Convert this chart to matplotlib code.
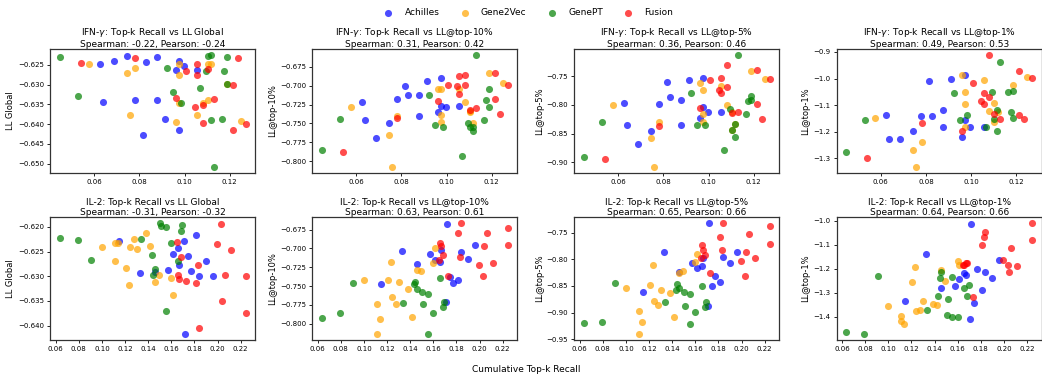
import matplotlib
matplotlib.use("Agg")
import matplotlib.pyplot as plt
from matplotlib.ticker import MultipleLocator

models = ["Achilles", "Gene2Vec", "GenePT", "Fusion"]
colors = ["blue", "orange", "green", "red"]

# ---------------- IFN-gamma: cumulative top-k recall (x) ----------------
ifn_x_achilles = [0.0624, 0.0637, 0.0685, 0.0744, 0.0779, 0.0816, 0.0828, 0.0876, 0.0876, 0.0912, 0.0960, 0.0974, 0.0974, 0.0997, 0.1056]
ifn_x_gene2vec = [0.0575, 0.0744, 0.0756, 0.0781, 0.0960, 0.0974, 0.0974, 0.0975, 0.1056, 0.1081, 0.1103, 0.1104, 0.1118, 0.1188, 0.1250]
ifn_x_genept = [0.0446, 0.0528, 0.0924, 0.0949, 0.0984, 0.1068, 0.1093, 0.1104, 0.1116, 0.1116, 0.1130, 0.1165, 0.1176, 0.1188, 0.1188]
ifn_x_fusion = [0.0540, 0.0781, 0.0960, 0.1007, 0.1044, 0.1056, 0.1056, 0.1081, 0.1081, 0.1103, 0.1129, 0.1213, 0.1213, 0.1237, 0.1272]

# IFN-gamma: LL Global
ifn_global_achilles = [-0.6247, -0.6345, -0.6241, -0.6228, -0.6338, -0.6427, -0.6242, -0.6231, -0.6338, -0.6387, -0.6262, -0.6241, -0.6416, -0.6253, -0.6262]
ifn_global_gene2vec = [-0.6247, -0.6272, -0.6376, -0.6258, -0.6396, -0.6247, -0.6277, -0.6347, -0.6377, -0.6346, -0.6247, -0.6338, -0.6249, -0.6299, -0.6392]
ifn_global_genept = [-0.6231, -0.6330, -0.6259, -0.6318, -0.6346, -0.6309, -0.6265, -0.6228, -0.6225, -0.6391, -0.6509, -0.6386, -0.6267, -0.6230, -0.6299]
ifn_global_fusion = [-0.6246, -0.6232, -0.6334, -0.6266, -0.6357, -0.6249, -0.6276, -0.6353, -0.6398, -0.6260, -0.6337, -0.6302, -0.6416, -0.6234, -0.6401]

# IFN-gamma: LL@top-10%
ifn_top10_achilles = [-0.7214, -0.7455, -0.7692, -0.7500, -0.7179, -0.7000, -0.7129, -0.7129, -0.7406, -0.6933, -0.7344, -0.6902, -0.7268, -0.7286, -0.7263]
ifn_top10_gene2vec = [-0.7277, -0.7660, -0.8080, -0.7400, -0.7049, -0.7045, -0.7384, -0.7478, -0.7045, -0.7214, -0.7330, -0.7348, -0.7500, -0.6830, -0.6969]
ifn_top10_genept = [-0.7857, -0.7446, -0.7129, -0.7522, -0.7549, -0.7933, -0.7500, -0.7545, -0.7550, -0.7605, -0.6590, -0.7455, -0.7188, -0.7045, -0.7277]
ifn_top10_fusion = [-0.7880, -0.7433, -0.7205, -0.6991, -0.7000, -0.6875, -0.7107, -0.6853, -0.6987, -0.7326, -0.7290, -0.6826, -0.7170, -0.7379, -0.6991]

# IFN-gamma: LL@top-5%
ifn_top5_achilles = [-0.7965, -0.8359, -0.8676, -0.8453, -0.7988, -0.7594, -0.7865, -0.7912, -0.8347, -0.7559, -0.8229, -0.7524, -0.8029, -0.8129, -0.8118]
ifn_top5_gene2vec = [-0.8006, -0.8571, -0.9088, -0.8300, -0.7618, -0.7735, -0.8159, -0.8300, -0.7665, -0.8006, -0.8118, -0.8435, -0.8335, -0.7412, -0.7547]
ifn_top5_genept = [-0.8912, -0.8300, -0.7788, -0.8347, -0.8347, -0.8794, -0.8076, -0.8430, -0.8335, -0.8559, -0.7124, -0.8159, -0.7924, -0.7841, -0.7912]
ifn_top5_fusion = [-0.8947, -0.8365, -0.8047, -0.7559, -0.7735, -0.7529, -0.7794, -0.7306, -0.7688, -0.8147, -0.8129, -0.7394, -0.7982, -0.8253, -0.7541]

# IFN-gamma: LL@top-1%
ifn_top1_achilles = [-1.138, -1.229, -1.227, -1.198, -1.141, -1.010, -1.141, -1.118, -1.184, -1.000, -1.219, -0.987, -1.156, -1.183, -1.183]
ifn_top1_gene2vec = [-1.150, -1.270, -1.333, -1.238, -0.985, -1.051, -1.097, -1.181, -1.006, -1.123, -1.093, -1.162, -1.125, -1.025, -0.995]
ifn_top1_genept = [-1.276, -1.156, -1.053, -1.154, -1.137, -1.183, -1.051, -1.151, -1.118, -1.199, -0.938, -1.051, -1.126, -1.046, -1.147]
ifn_top1_fusion = [-1.297, -1.169, -1.197, -1.016, -1.085, -1.055, -1.096, -0.911, -1.068, -1.132, -1.152, -0.971, -1.138, -1.152, -0.996]

# ---------------- IL-2: cumulative top-k recall (x) ----------------
il2_x_achilles = [0.1145, 0.1325, 0.1455, 0.1575, 0.1612, 0.1658, 0.1669, 0.1707, 0.1718, 0.1744, 0.1767, 0.1813, 0.1839, 0.1899, 0.1959]
il2_x_gene2vec = [0.1001, 0.1110, 0.1110, 0.1136, 0.1205, 0.1231, 0.1242, 0.1277, 0.1300, 0.1383, 0.1420, 0.1455, 0.1492, 0.1600, 0.1612]
il2_x_genept = [0.0634, 0.0789, 0.0907, 0.1337, 0.1432, 0.1443, 0.1455, 0.1506, 0.1515, 0.1552, 0.1552, 0.1600, 0.1658, 0.1684, 0.1695]
il2_x_fusion = [0.1647, 0.1658, 0.1669, 0.1684, 0.1730, 0.1813, 0.1827, 0.1839, 0.1994, 0.2031, 0.2042, 0.2065, 0.2114, 0.2246, 0.2246]

# IL-2: LL Global
il2_global_achilles = [-0.6228, -0.6294, -0.6291, -0.6288, -0.6255, -0.6242, -0.6277, -0.6229, -0.6418, -0.6260, -0.6289, -0.6216, -0.6300, -0.6270, -0.6299]
il2_global_gene2vec = [-0.6240, -0.6232, -0.6270, -0.6233, -0.6283, -0.6318, -0.6240, -0.6224, -0.6245, -0.6212, -0.6239, -0.6311, -0.6297, -0.6304, -0.6338]
il2_global_genept = [-0.6222, -0.6227, -0.6267, -0.6224, -0.6257, -0.6298, -0.6286, -0.6192, -0.6199, -0.6201, -0.6370, -0.6233, -0.6270, -0.6209, -0.6197]
il2_global_fusion = [-0.6231, -0.6298, -0.6306, -0.6262, -0.6309, -0.6314, -0.6277, -0.6405, -0.6235, -0.6195, -0.6351, -0.6297, -0.6246, -0.6300, -0.6375]

# IL-2: LL@top-10%
il2_top10_achilles = [-0.7477, -0.7038, -0.7202, -0.7078, -0.7158, -0.7180, -0.7025, -0.7707, -0.6675, -0.7379, -0.7459, -0.7419, -0.7047, -0.7140, -0.6954]
il2_top10_gene2vec = [-0.7415, -0.7743, -0.8142, -0.7942, -0.7415, -0.7184, -0.7641, -0.7738, -0.7450, -0.7539, -0.7912, -0.7291, -0.7304, -0.7193, -0.6989]
il2_top10_genept = [-0.7920, -0.7854, -0.7464, -0.7730, -0.7468, -0.7441, -0.7539, -0.7579, -0.7738, -0.7606, -0.8133, -0.7854, -0.7393, -0.7783, -0.7707]
il2_top10_fusion = [-0.7158, -0.6923, -0.6963, -0.7087, -0.7362, -0.6794, -0.7118, -0.6661, -0.7215, -0.7362, -0.6963, -0.6799, -0.7189, -0.6723, -0.6950]

# IL-2: LL@top-5%
il2_top5_achilles = [-0.8609, -0.7868, -0.8235, -0.8079, -0.8167, -0.8117, -0.7967, -0.8877, -0.7319, -0.8497, -0.8310, -0.8416, -0.7955, -0.8073, -0.7868]
il2_top5_gene2vec = [-0.8534, -0.8977, -0.9406, -0.9182, -0.8472, -0.8098, -0.8790, -0.8852, -0.8578, -0.8640, -0.9076, -0.8248, -0.8216, -0.8048, -0.7899]
il2_top5_genept = [-0.9195, -0.9182, -0.8447, -0.8802, -0.8584, -0.8466, -0.8534, -0.8603, -0.8883, -0.8653, -0.9219, -0.8995, -0.8497, -0.8896, -0.8796]
il2_top5_fusion = [-0.7980, -0.7737, -0.7824, -0.7911, -0.8260, -0.7587, -0.7824, -0.7319, -0.8030, -0.8304, -0.7855, -0.7525, -0.7967, -0.7375, -0.7712]

# IL-2: LL@top-1%
il2_top1_achilles = [-1.336, -1.140, -1.279, -1.271, -1.243, -1.218, -1.226, -1.410, -1.011, -1.343, -1.201, -1.289, -1.212, -1.240, -1.164]
il2_top1_gene2vec = [-1.354, -1.396, -1.417, -1.432, -1.253, -1.194, -1.376, -1.371, -1.335, -1.346, -1.353, -1.204, -1.251, -1.168, -1.186]
il2_top1_genept = [-1.465, -1.474, -1.228, -1.371, -1.315, -1.238, -1.215, -1.394, -1.326, -1.233, -1.401, -1.401, -1.282, -1.314, -1.267]
il2_top1_fusion = [-1.186, -1.182, -1.175, -1.174, -1.317, -1.100, -1.069, -1.047, -1.165, -1.183, -1.214, -1.112, -1.189, -1.008, -1.081]

# Panel texts
ifn_titles = ["IFN-$\\gamma$: Top-k Recall vs LL Global\nSpearman: -0.22, Pearson: -0.24",
              "IFN-$\\gamma$: Top-k Recall vs LL@top-10%\nSpearman: 0.31, Pearson: 0.42",
              "IFN-$\\gamma$: Top-k Recall vs LL@top-5%\nSpearman: 0.36, Pearson: 0.46",
              "IFN-$\\gamma$: Top-k Recall vs LL@top-1%\nSpearman: 0.49, Pearson: 0.53"]
il2_titles = ["IL-2: Top-k Recall vs LL Global\nSpearman: -0.31, Pearson: -0.32",
              "IL-2: Top-k Recall vs LL@top-10%\nSpearman: 0.63, Pearson: 0.61",
              "IL-2: Top-k Recall vs LL@top-5%\nSpearman: 0.65, Pearson: 0.66",
              "IL-2: Top-k Recall vs LL@top-1%\nSpearman: 0.64, Pearson: 0.66"]
ylabels = ["LL Global", "LL@top-10%", "LL@top-5%", "LL@top-1%"]
xlabel = "Cumulative Top-k Recall"

ifn_x = [ifn_x_achilles, ifn_x_gene2vec, ifn_x_genept, ifn_x_fusion]
il2_x = [il2_x_achilles, il2_x_gene2vec, il2_x_genept, il2_x_fusion]
ifn_y = [
    [ifn_global_achilles, ifn_global_gene2vec, ifn_global_genept, ifn_global_fusion],
    [ifn_top10_achilles, ifn_top10_gene2vec, ifn_top10_genept, ifn_top10_fusion],
    [ifn_top5_achilles, ifn_top5_gene2vec, ifn_top5_genept, ifn_top5_fusion],
    [ifn_top1_achilles, ifn_top1_gene2vec, ifn_top1_genept, ifn_top1_fusion],
]
il2_y = [
    [il2_global_achilles, il2_global_gene2vec, il2_global_genept, il2_global_fusion],
    [il2_top10_achilles, il2_top10_gene2vec, il2_top10_genept, il2_top10_fusion],
    [il2_top5_achilles, il2_top5_gene2vec, il2_top5_genept, il2_top5_fusion],
    [il2_top1_achilles, il2_top1_gene2vec, il2_top1_genept, il2_top1_fusion],
]
y_steps = [0.005, 0.025, 0.05, 0.1]

W, H = 1042, 375
fig = plt.figure(figsize=(W / 100, H / 100), dpi=100)

lefts = [50.3, 312.3, 574.3, 836.7]
width = 205.0
rows = [(49.3, 172.7), (217.3, 340.0)]

handles = []
for r, (xs, ys_panels, titles) in enumerate([(ifn_x, ifn_y, ifn_titles), (il2_x, il2_y, il2_titles)]):
    top, bottom = rows[r]
    for c in range(4):
        ax = fig.add_axes([lefts[c] / W, 1 - bottom / H, width / W, (bottom - top) / H])
        for m in range(4):
            sc = ax.scatter(xs[m], ys_panels[c][m], s=26, color=colors[m], alpha=0.7,
                            linewidths=0, label=models[m])
            if r == 0 and c == 0:
                handles.append(sc)
        ax.set_title(titles[c], fontsize=6.5, pad=2, linespacing=1.05)
        ax.set_ylabel(ylabels[c], fontsize=6, labelpad=2)
        ax.xaxis.set_major_locator(MultipleLocator(0.02))
        ax.yaxis.set_major_locator(MultipleLocator(y_steps[c]))
        ax.tick_params(labelsize=5, length=2.5, width=0.6, pad=2)
        for sp in ax.spines.values():
            sp.set_linewidth(0.9)
            sp.set_color("#333333")

fig.legend(handles, models, loc="center", bbox_to_anchor=(0.505, 0.966), ncol=4,
           frameon=False, fontsize=6.5, columnspacing=1.8, handletextpad=0.8)
fig.text(0.505, 0.016, xlabel, ha="center", va="center", fontsize=6.5)

fig.savefig("out.png", dpi=100)
